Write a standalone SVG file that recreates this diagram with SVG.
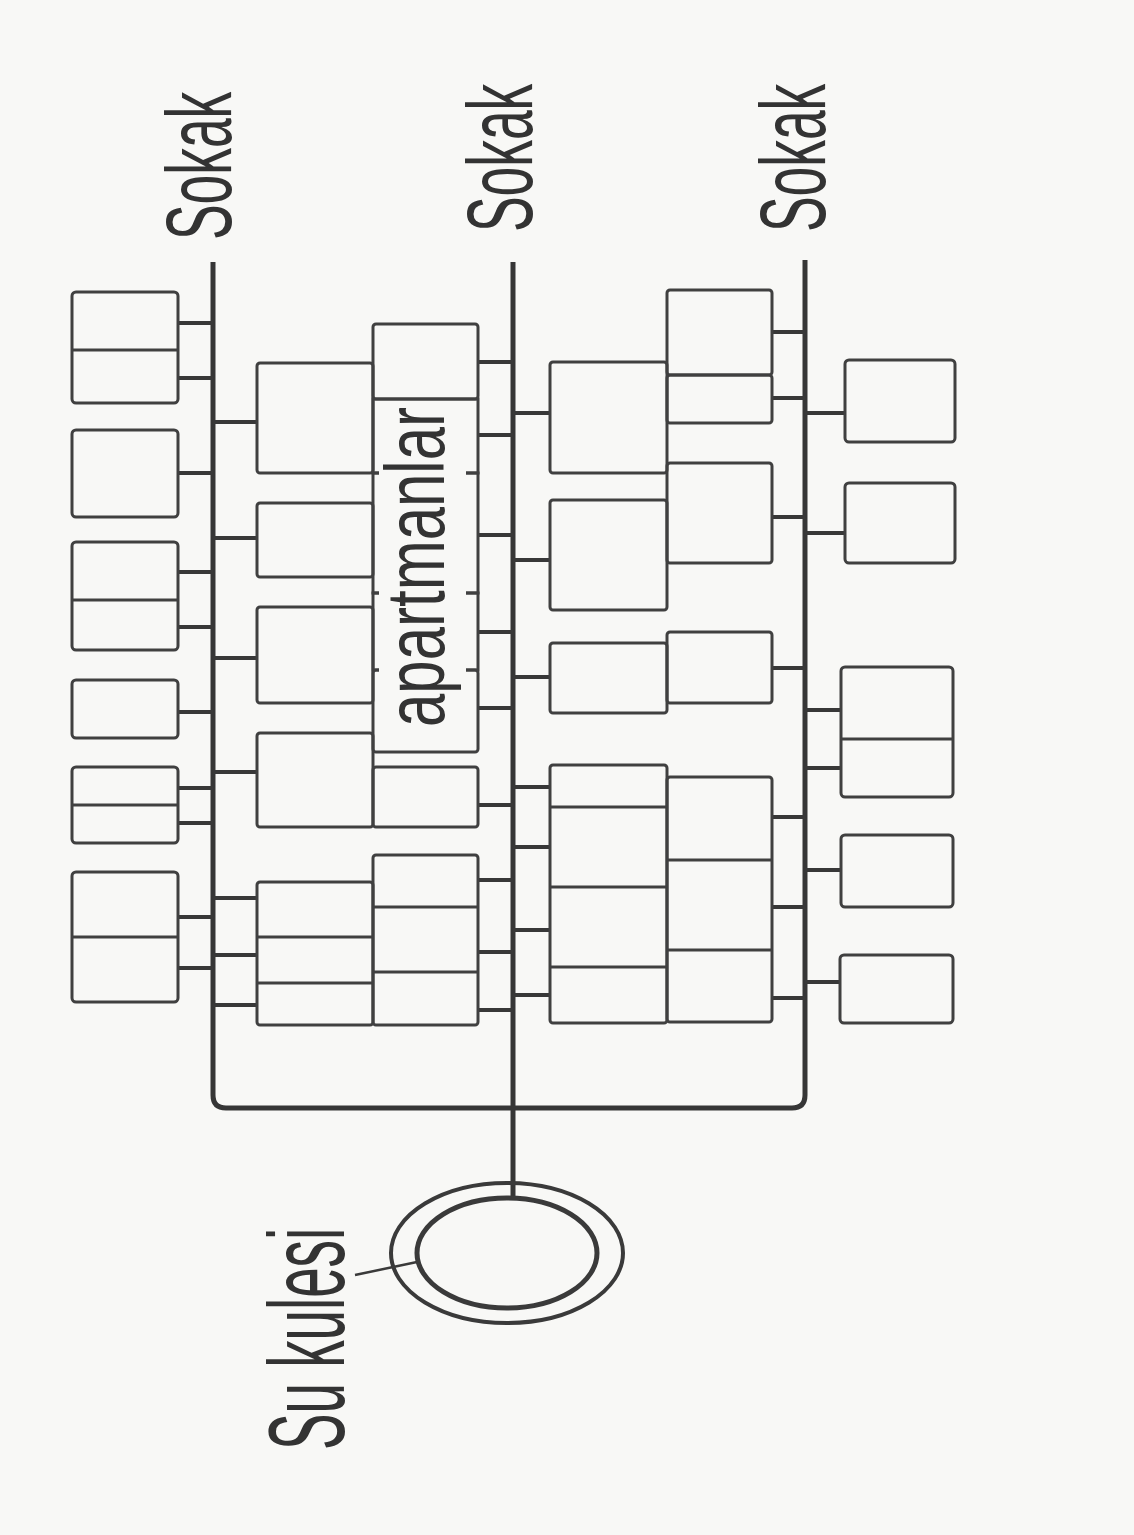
<svg xmlns="http://www.w3.org/2000/svg" width="1134" height="1535" viewBox="0 0 1134 1535">
<style>
.bx{fill:none;stroke:#404040;stroke-width:3}
.dv{stroke:#404040;stroke-width:3}
.cn{stroke:#383838;stroke-width:4;fill:none}
.st{stroke:#363636;stroke-width:5;fill:none}
.ring{fill:none;stroke:#3a3a3a}
.lbl{font-family:"Liberation Sans",Arial,sans-serif;fill:#333}
</style>
<rect width="1134" height="1535" fill="#f8f8f6"/>

<g id="streets">
<path class="st" d="M213,262 V1095 Q213,1108 226,1108 H792 Q805,1108 805,1095 V260"/>
<path class="st" d="M513,262 V1197"/>
</g>

<g id="connectors">
<path class="cn" d="M178,323H213M178,378H213M178,473H213M178,572H213M178,627H213M178,712H213M178,788H213M178,823H213M178,917H213M178,968H213"/>
<path class="cn" d="M213,422H257M213,538H257M213,658H257M213,772H257M213,898H257M213,955H257M213,1005H257"/>
<path class="cn" d="M478,362H513M478,435H513M478,535H513M478,632H513M478,708H513M478,805H513M478,880H513M478,952H513M478,1010H513"/>
<path class="cn" d="M513,413H550M513,560H550M513,677H550M513,787H550M513,847H550M513,930H550M513,995H550"/>
<path class="cn" d="M772,332H805M772,398H805M772,517H805M772,668H805M772,817H805M772,907H805M772,998H805"/>
<path class="cn" d="M805,413H845M805,533H845M805,710H841M805,768H841M805,870H841M805,982H840"/>
<path stroke="#3a3a3a" stroke-width="2.5" d="M355,1275 L417,1262"/>
</g>

<g id="col1-a"><rect class="bx" x="72" y="292" width="106" height="111" rx="4"/><line class="dv" x1="72" y1="350" x2="178" y2="350"/></g>
<g id="col1-b"><rect class="bx" x="72" y="430" width="106" height="87" rx="4"/></g>
<g id="col1-c"><rect class="bx" x="72" y="542" width="106" height="108" rx="4"/><line class="dv" x1="72" y1="600" x2="178" y2="600"/></g>
<g id="col1-d"><rect class="bx" x="72" y="680" width="106" height="58" rx="4"/></g>
<g id="col1-e"><rect class="bx" x="72" y="767" width="106" height="76" rx="4"/><line class="dv" x1="72" y1="805" x2="178" y2="805"/></g>
<g id="col1-f"><rect class="bx" x="72" y="872" width="106" height="130" rx="4"/><line class="dv" x1="72" y1="937" x2="178" y2="937"/></g>

<g id="col2a-1"><rect class="bx" x="257" y="363" width="116" height="110" rx="3"/></g>
<g id="col2a-2"><rect class="bx" x="257" y="503" width="116" height="74" rx="3"/></g>
<g id="col2a-3"><rect class="bx" x="257" y="607" width="116" height="96" rx="3"/></g>
<g id="col2a-4"><rect class="bx" x="257" y="733" width="116" height="94" rx="3"/></g>
<g id="col2a-5"><rect class="bx" x="257" y="882" width="116" height="143" rx="3"/><path class="dv" d="M257,937H373M257,983H373"/></g>

<g id="col2b-1"><rect class="bx" x="373" y="324" width="105" height="75" rx="3"/></g>
<g id="col2b-2"><rect class="bx" x="373" y="399" width="105" height="74"/></g>
<g id="col2b-3"><rect class="bx" x="373" y="473" width="105" height="120"/></g>
<g id="col2b-4"><rect class="bx" x="373" y="593" width="105" height="77"/></g>
<g id="col2b-5"><rect class="bx" x="373" y="670" width="105" height="82" rx="3"/></g>
<g id="col2b-6"><rect class="bx" x="373" y="767" width="105" height="60" rx="3"/></g>
<g id="col2b-7"><rect class="bx" x="373" y="855" width="105" height="170" rx="3"/><path class="dv" d="M373,907H478M373,972H478"/></g>

<g id="label-apartmanlar">
<rect x="379" y="402" width="87" height="347" fill="#f8f8f6"/>
<text class="lbl" transform="translate(444,727) rotate(-90) scale(0.714,1)" font-size="84">apartmanlar</text>
</g>

<g id="col3a-1"><rect class="bx" x="550" y="362" width="117" height="111" rx="3"/></g>
<g id="col3a-2"><rect class="bx" x="550" y="500" width="117" height="110" rx="3"/></g>
<g id="col3a-3"><rect class="bx" x="550" y="643" width="117" height="70" rx="3"/></g>
<g id="col3a-4"><rect class="bx" x="550" y="765" width="117" height="258" rx="3"/><path class="dv" d="M550,807H667M550,887H667M550,967H667"/></g>

<g id="col3b-1"><rect class="bx" x="667" y="290" width="105" height="85" rx="3"/></g>
<g id="col3b-2"><rect class="bx" x="667" y="375" width="105" height="48" rx="3"/></g>
<g id="col3b-3"><rect class="bx" x="667" y="463" width="105" height="100" rx="3"/></g>
<g id="col3b-4"><rect class="bx" x="667" y="632" width="105" height="71" rx="3"/></g>
<g id="col3b-5"><rect class="bx" x="667" y="777" width="105" height="245" rx="3"/><path class="dv" d="M667,860H772M667,950H772"/></g>

<g id="col4-a"><rect class="bx" x="845" y="360" width="110" height="82" rx="4"/></g>
<g id="col4-b"><rect class="bx" x="845" y="483" width="110" height="80" rx="4"/></g>
<g id="col4-c"><rect class="bx" x="841" y="667" width="112" height="130" rx="4"/><line class="dv" x1="841" y1="739" x2="953" y2="739"/></g>
<g id="col4-d"><rect class="bx" x="841" y="835" width="112" height="72" rx="4"/></g>
<g id="col4-e"><rect class="bx" x="840" y="955" width="113" height="68" rx="4"/></g>

<g id="su-kulesi">
<ellipse class="ring" cx="507" cy="1253" rx="116" ry="70" stroke-width="4"/>
<ellipse class="ring" cx="507" cy="1253" rx="90" ry="55" stroke-width="5"/>
</g>

<g id="labels">
<text class="lbl" transform="translate(231,240) rotate(-90) scale(0.58,1)" font-size="92">Sokak</text>
<text class="lbl" transform="translate(532,232) rotate(-90) scale(0.58,1)" font-size="92">Sokak</text>
<text class="lbl" transform="translate(825,232) rotate(-90) scale(0.58,1)" font-size="92">Sokak</text>
<text class="lbl" transform="translate(344,1450) rotate(-90) scale(0.507,1)" font-size="108">Su kulesi</text>
</g>
</svg>
